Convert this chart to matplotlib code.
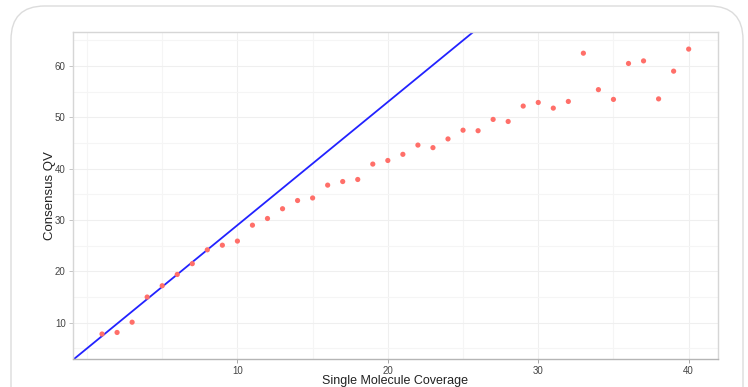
import numpy as np
import matplotlib
matplotlib.use("Agg")
import matplotlib.pyplot as plt
from matplotlib.ticker import FixedLocator
from matplotlib.patches import FancyBboxPatch

plt.rcParams['font.family'] = ['Liberation Sans', 'DejaVu Sans']

# data
coverage = list(range(1, 41))
consensus_qv = [7.8, 8.1, 10.1, 15.0, 17.2, 19.4, 21.5, 24.2, 25.1, 25.9,
                29.0, 30.3, 32.2, 33.8, 34.3, 36.8, 37.5, 37.9, 40.9, 41.6,
                42.8, 44.6, 44.1, 45.8, 47.5, 47.4, 49.6, 49.2, 52.2, 52.9,
                51.8, 53.1, 62.5, 55.4, 53.5, 60.5, 61.0, 53.6, 59.0, 63.3]
# reference line y = a + b*x
line_intercept = 5.0
line_slope = 2.4

x_ticks = [10, 20, 30, 40]
y_ticks = [10, 20, 30, 40, 50, 60]

fig = plt.figure(figsize=(7.48, 3.87), dpi=100)

# card outline behind the chart
card = FancyBboxPatch((11 / 748, -0.2), 732 / 748, 1 - 6 / 387 + 0.2,
                      boxstyle="round,pad=0,rounding_size=0.045",
                      mutation_aspect=748 / 387,
                      transform=fig.transFigure, facecolor="white",
                      edgecolor="#dcdcdc", linewidth=1.0, zorder=-10)
fig.patches.append(card)

ax = fig.add_axes([72.7 / 748, 1 - 359 / 387, (718 - 72.7) / 748, (359 - 32.3) / 387])
ax.set_zorder(1)
ax.set_facecolor("white")

ax.scatter(coverage, consensus_qv, s=14, color="#ff6f69", edgecolors="none", zorder=3)
ax.axline((0, line_intercept), slope=line_slope, color="#2222ff", lw=1.3, zorder=2)

ax.set_xlim(-0.95, 41.95)
ax.set_ylim(2.93, 66.57)

# grid: major + minor
ax.xaxis.set_major_locator(FixedLocator(x_ticks))
ax.xaxis.set_minor_locator(FixedLocator([0, 5, 15, 25, 35]))
ax.yaxis.set_major_locator(FixedLocator(y_ticks))
ax.yaxis.set_minor_locator(FixedLocator([5, 15, 25, 35, 45, 55, 65]))
ax.grid(which="major", color="#efefef", lw=0.8)
ax.grid(which="minor", color="#f5f5f5", lw=0.8)
ax.set_axisbelow(True)

ax.tick_params(axis="both", which="major", labelsize=7, colors="#444444",
               length=3, width=0.6, pad=2)
ax.tick_params(axis="both", which="minor", length=0)
ax.tick_params(axis="x", color="#999999")
ax.tick_params(axis="y", color="#bbbbbb")

for side in ["top", "right", "left"]:
    ax.spines[side].set_color("#d6d6d6")
    ax.spines[side].set_linewidth(1.0)
ax.spines["bottom"].set_color("#b5b5b5")
ax.spines["bottom"].set_linewidth(1.0)

ax.set_xlabel("Single Molecule Coverage", fontsize=9, color="#222222", labelpad=-1)
ax.set_ylabel("Consensus QV", fontsize=9.5, color="#222222", labelpad=-1)

fig.savefig("out.png", dpi=100)
